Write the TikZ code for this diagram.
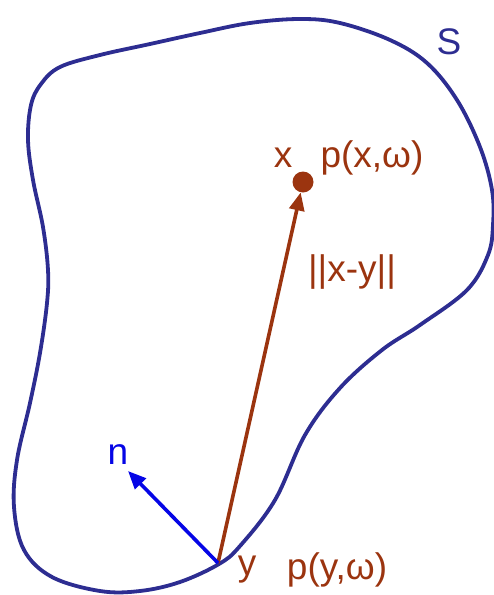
\documentclass[tikz,border=0pt]{standalone}
\usepackage{fontspec}
\setmainfont{Liberation Sans}
\usetikzlibrary{arrows.meta}
\definecolor{navy}{RGB}{45,45,145}
\definecolor{rust}{RGB}{155,52,15}
\definecolor{pureblue}{RGB}{5,5,230}
\tikzset{
  outline/.style={draw=navy, line width=3.8pt, line join=round},
  lbl/.style={inner sep=0pt, font=\fontsize{37}{42}\selectfont},
  rustlbl/.style={lbl, text=rust},
  bluelbl/.style={lbl, text=pureblue},
  vec/.style={line width=3.6pt, -{Triangle[length=18pt, width=15pt]}},
}
\begin{document}
\begin{tikzpicture}[x=1pt, y=-1pt]
\useasboundingbox (0,0) rectangle (494,595);
\draw[outline] plot[smooth cycle, tension=0.6] coordinates {
 (219,564) (180,582) (140,591) (100,591) (52,577) (24,550) (14,507)
 (17,460) (30,403) (40,353) (47,303) (48,270) (43,227) (33,180)
 (28,140) (31,105) (41,84) (60,67) (100,55) (150,44) (200,33)
 (250,23) (300,19) (340,23) (390,40) (427,63) (457,100) (480,147)
 (492,190) (493,225) (488,255) (467,290) (420,325) (382,350)
 (340,388) (305,435) (275,500) (240,546)};
\coordinate (y) at (218,563);
\node[circle, fill=rust, inner sep=0pt, minimum size=21pt] (xp) at (303,182) {};
\coordinate (ntip) at (128,471);
\draw[vec, draw=rust, fill=rust] (y) -- (xp);
\draw[vec, draw=pureblue, fill=pureblue] (y) -- (ntip);
\node[lbl, text=navy] (S) at (449,42) {S};
\node[rustlbl] (xl) at (283,158) {x};
\node[rustlbl] (pxl) at (372,158) {p(x,ω)};
\node[rustlbl] (dist) at (352,272) {||x-y||};
\node[bluelbl] (nl) at (118,455) {n};
\node[rustlbl] (yl) at (247,570) {y};
\node[rustlbl] (pyl) at (337,570) {p(y,ω)};
\end{tikzpicture}
\end{document}
